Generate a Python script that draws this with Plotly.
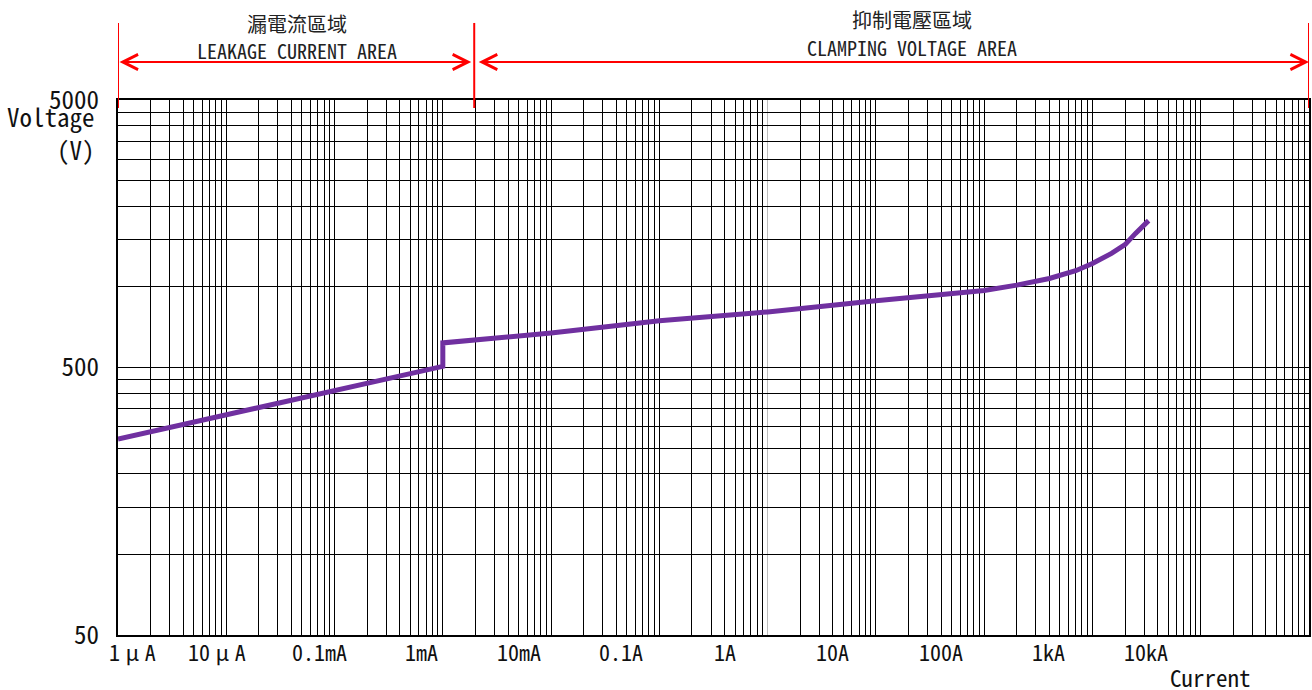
import math
import plotly.graph_objects as go

# ---------------- data ----------------
current_a = [1e-6, 1e-5, 1e-4, 1e-3, 1e-3, 1e-2, 1e-1, 1, 10, 100, 200, 400, 700,
             1000, 1500, 2000, 2500, 3000, 3300]
voltage_v = [270, 332, 411, 505, 618, 673, 747, 807, 889, 970, 1016, 1076, 1150,
             1224, 1335, 1440, 1586, 1703, 1770]

x_tick_values = [1e-6, 1e-5, 1e-4, 1e-3, 1e-2, 1e-1, 1, 10, 100, 1e3, 1e4]
x_tick_labels = ["1\u2005μ\u2005A", "10\u2005μ\u2005A", "0.1mA", "1mA", "10mA", "0.1A",
                 "1A", "10A", "100A", "1kA", "10kA"]
y_tick_values = [50, 500, 5000]
y_tick_labels = ["50", "500", "5000"]

region_edges = [1e-6, 1.95e-3, 1e5]
region_names_zh = ["漏電流區域", "抑制電壓區域"]
region_names_en = ["LEAKAGE CURRENT AREA", "CLAMPING VOLTAGE AREA"]

x_title = "Current"
y_title = "Voltage<br>(V)"

x_range = [1e-6, 1e5]
y_range = [50, 5000]

# ---------------- style ----------------
FONT = "Noto Sans Mono CJK TC, Noto Sans CJK TC, DejaVu Sans Mono, monospace"
TXT = "#111111"
RED = "#ff0000"
PURPLE = "#7030A0"
# manual horizontal nudges (px) of the x tick labels, as in the original drawing
x_label_nudge = [14, -9, -15, -21, -32, -38, -43, -43, -43, -44, -55]

# grid lines: 1..9 per decade on x, 5*10^k * (1..10) on y
x_grid = [k * 10 ** d for d in range(-6, 5) for k in range(1, 10)] + [1e5]
x_grid_special = [1]  # drawn light grey in the original
x_grid = [v for v in x_grid if v not in x_grid_special]
y_grid = [50 * k for k in range(1, 11)] + [500 * k for k in range(2, 11)]

fig = go.Figure()
fig.add_trace(go.Scatter(
    x=current_a, y=voltage_v, mode="lines",
    line=dict(color=PURPLE, width=5),
    hoverinfo="skip", showlegend=False,
))

fig.update_xaxes(
    type="log", range=[math.log10(x_range[0]), math.log10(x_range[1])],
    tickmode="array", tickvals=x_grid, showticklabels=False, ticks="",
    showgrid=True, gridcolor="#000000", gridwidth=1.4,
    showline=True, linecolor="#000000", linewidth=2, mirror=True,
    zeroline=False,
    minor=dict(tickmode="array", tickvals=x_grid_special, showgrid=True,
               gridcolor="#bdbdbd", gridwidth=1.4, ticks=""),
)
fig.update_yaxes(
    type="log", range=[math.log10(y_range[0]), math.log10(y_range[1])],
    tickmode="array", tickvals=y_grid,
    ticktext=[y_tick_labels[y_tick_values.index(v)] if v in y_tick_values else ""
              for v in y_grid],
    ticks="", ticklabelstandoff=12,
    tickfont=dict(family=FONT, size=25, color=TXT),
    showgrid=True, gridcolor="#000000", gridwidth=1.4,
    showline=True, linecolor="#000000", linewidth=2, mirror=True,
    zeroline=False,
)

annotations = []
# x tick labels
for v, lab, dx in zip(x_tick_values, x_tick_labels, x_label_nudge):
    annotations.append(dict(
        x=math.log10(v), y=-0.029, xref="x", yref="paper", text=lab,
        showarrow=False, xanchor="center", yanchor="middle", xshift=dx,
        font=dict(family=FONT, size=22, color=TXT),
    ))
# axis titles
annotations.append(dict(
    x=0.9176, y=-0.0777, xref="paper", yref="paper", text=x_title,
    showarrow=False, xanchor="center", yanchor="middle",
    font=dict(family=FONT, size=23, color=TXT),
))
annotations.append(dict(
    x=-0.0179, y=0.9401, xref="paper", yref="paper", text=y_title,
    showarrow=False, xanchor="right", yanchor="middle", align="right",
    font=dict(family=FONT, size=25, color=TXT),
))

# region arrows (double headed)
arrow_y = 1.071
for i in range(2):
    annotations.append(dict(
        x=math.log10(region_edges[i + 1]), y=arrow_y, xref="x", yref="paper",
        ax=math.log10(region_edges[i]), ay=0, axref="x", ayref="pixel",
        text="", showarrow=True, arrowside="end+start",
        arrowhead=5, startarrowhead=5, arrowsize=1.5, startarrowsize=1.5,
        arrowwidth=2, arrowcolor=RED,
        standoff=3 if i == 0 else 0, startstandoff=3 if i == 1 else 0,
    ))

# region titles
zh_pos = [(0.1499, 1.1422), (0.6669, 1.1508)]
en_pos = [(0.1499, 1.0926), (0.6669, 1.0983)]
for i in range(2):
    annotations.append(dict(
        x=zh_pos[i][0], y=zh_pos[i][1], xref="paper", yref="paper",
        text=region_names_zh[i], showarrow=False, xanchor="center", yanchor="middle",
        font=dict(family=FONT, size=20, color="#222222"),
    ))
    annotations.append(dict(
        x=en_pos[i][0], y=en_pos[i][1], xref="paper", yref="paper",
        text=region_names_en[i], showarrow=False, xanchor="center", yanchor="middle",
        font=dict(family=FONT, size=20, color="#222222"),
    ))

shapes = []
for e in region_edges:
    shapes.append(dict(
        type="line", xref="x", yref="paper", x0=e, x1=e, y0=0.985, y1=1.144,
        line=dict(color=RED, width=2),
    ))

fig.update_layout(
    width=1312, height=690,
    margin=dict(l=118, r=1, t=100, b=55),
    paper_bgcolor="white", plot_bgcolor="white",
    annotations=annotations, shapes=shapes,
    showlegend=False,
    font=dict(family=FONT, color=TXT),
)

fig.write_html(
    "out.html",
    config={"displayModeBar": False},
    post_script="document.body.style.margin='0';document.body.style.overflow='hidden';",
)
